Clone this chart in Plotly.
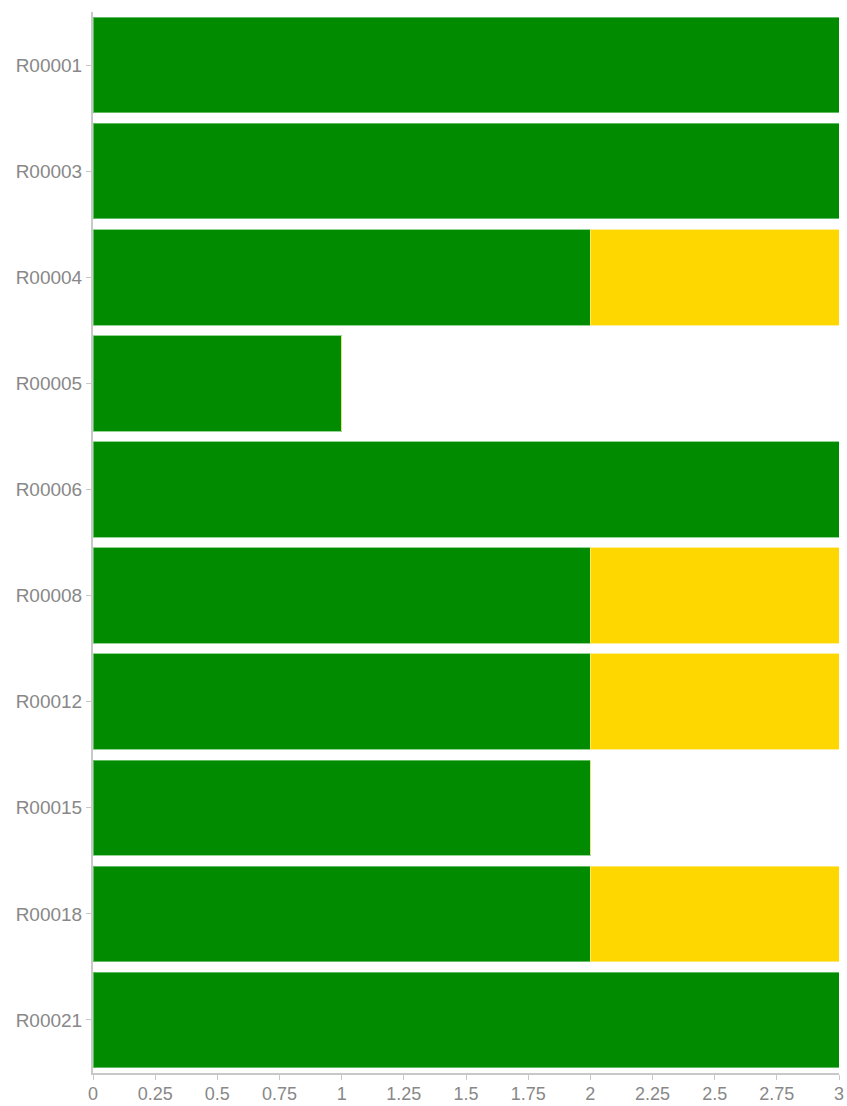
import plotly.graph_objects as go

categories = ["R00001", "R00003", "R00004", "R00005", "R00006",
              "R00008", "R00012", "R00015", "R00018", "R00021"]
green_vals = [3, 3, 2, 1, 3, 2, 2, 2, 2, 3]
yellow_vals = [0, 0, 1, 0, 0, 1, 1, 0, 1, 0]
x_tick_vals = [0, 0.25, 0.5, 0.75, 1, 1.25, 1.5, 1.75, 2, 2.25, 2.5, 2.75, 3]
x_tick_text = ["0", "0.25", "0.5", "0.75", "1", "1.25", "1.5", "1.75", "2", "2.25", "2.5", "2.75", "3"]

FONT = "Liberation Sans, Arial, sans-serif"
FS = 19

fig = go.Figure()
fig.add_trace(go.Bar(
    y=categories, x=green_vals, orientation="h", name="green",
    marker=dict(color="#008B00", line=dict(color="rgba(120,200,120,0.8)", width=1)),
))
fig.add_trace(go.Bar(
    y=categories, x=yellow_vals, orientation="h", name="yellow",
    marker=dict(color="#FFD700", line=dict(color="rgba(255,235,130,0.8)", width=1)),
))

fig.update_layout(
    barmode="stack",
    bargap=0.1,
    width=847, height=1106,
    margin=dict(l=93, r=8, t=12, b=33, autoexpand=False),
    paper_bgcolor="white", plot_bgcolor="white",
    showlegend=False,
    font=dict(family=FONT, size=FS, color="#888888"),
)
fig.update_xaxes(
    range=[0, 3], tickvals=x_tick_vals, ticktext=x_tick_text,
    showgrid=False, zeroline=False, showline=True, linecolor="#c8c8c8", linewidth=2,
    ticks="outside", ticklen=5, tickcolor="#c8c8c8", tickwidth=1,
    tickfont=dict(family=FONT, size=18, color="#888888"), automargin=False,
    ticklabeloverflow="allow", ticklabelstandoff=-2,
)
fig.update_yaxes(
    autorange="reversed", showgrid=False, zeroline=False,
    showline=True, linecolor="#c8c8c8", linewidth=2,
    ticks="outside", ticklen=5, tickcolor="#c8c8c8", tickwidth=1,
    tickfont=dict(family=FONT, size=FS, color="#888888"), automargin=False,
)

fig.write_html(
    "out.html",
    config={"displayModeBar": False},
    post_script="document.body.style.margin='0';document.body.style.overflow='hidden';",
)
